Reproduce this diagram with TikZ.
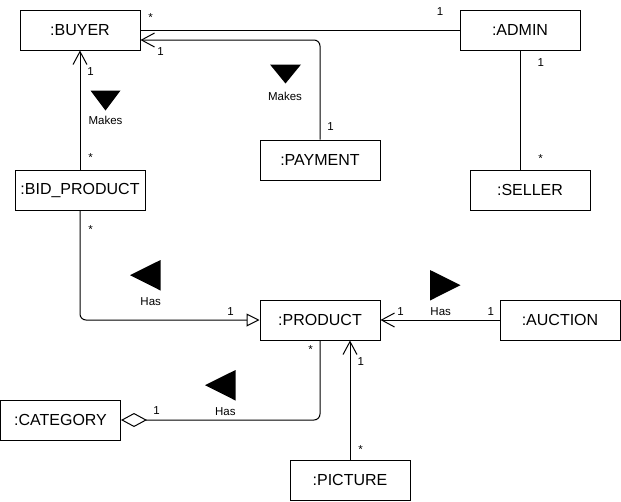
\documentclass[tikz,border=0pt]{standalone}
\usepackage{fontspec}
\setmainfont{Liberation Sans}
\usetikzlibrary{arrows.meta,calc}
\begin{document}
\begin{tikzpicture}[x=1pt,y=-1pt,
  box/.style={draw=black,line width=1pt,fill=white,minimum width=120pt,minimum height=40pt,inner sep=0pt,font=\fontsize{16}{18}\selectfont},
  conn/.style={draw=black,line width=1pt},
  openarr/.style={-{Straight Barb[length=13pt,width=14pt,line width=1pt]}},
  inh/.style={-{Triangle[open,length=13pt,width=13pt,line width=1pt,fill=white]}},
  agg/.style={-{Diamond[open,length=26pt,width=14pt,line width=1pt,fill=white]}},
  lbl/.style={font=\fontsize{11.5}{13}\selectfont,anchor=base,inner sep=0pt},
  tri/.style={fill=black}]
\useasboundingbox (0,0) rectangle (621,501);
% boxes
\node[box] (buyer) at (80,30) {:BUYER};
\node[box] (admin) at (520,30) {:ADMIN};
\node[box] (payment) at (320,160) {:PAYMENT};
\node[box] (seller) at (530,190) {:SELLER};
\node[box,minimum width=130pt] (bid) at (80,190) {:BID\_PRODUCT};
\node[box] (product) at (320,320) {:PRODUCT};
\node[box] (auction) at (560,320) {:AUCTION};
\node[box] (category) at (60.5,420) {:CATEGORY};
\node[box] (picture) at (350,480) {:PICTURE};
% connectors
\draw[conn] (admin.west) -- (buyer.east);
\draw[conn,openarr,rounded corners=6pt] (payment.north) |- ($(buyer.east)+(0,10)$);
\draw[conn,openarr] (bid.north) -- (buyer.south);
\draw[conn] (admin.south) -- (admin.south |- seller.north);
\draw[conn,inh,rounded corners=6pt] (bid.south) |- (product.west);
\draw[conn,openarr] (auction.west) -- (product.east);
\draw[conn,agg,rounded corners=6pt] (product.south) |- (category.east);
\draw[conn,openarr] (picture.north) -- (picture.north |- product.south);
% multiplicities
\node[lbl] (m1) at (150.7,21.5) {*};
\node[lbl] (m2) at (440,15) {1};
\node[lbl] (m3) at (160.5,55) {1};
\node[lbl] (m4) at (90.5,75) {1};
\node[lbl] (m5) at (90.7,161.5) {*};
\node[lbl] (m6) at (330.5,130.7) {1};
\node[lbl] (m7) at (540.7,66) {1};
\node[lbl] (m8) at (540.7,162.5) {*};
\node[lbl] (m9) at (90.7,233.5) {*};
\node[lbl] (m10) at (230.5,315) {1};
\node[lbl] (m11) at (400.5,315) {1};
\node[lbl] (m12) at (490.7,315) {1};
\node[lbl] (m13) at (310.5,353.5) {*};
\node[lbl] (m14) at (156.5,414) {1};
\node[lbl] (m15) at (360.7,365) {1};
\node[lbl] (m16) at (360.7,453.5) {*};
% association names
\node[lbl] (n1) at (105.5,124) {Makes};
\node[lbl] (n2) at (285,100.7) {Makes};
\node[lbl] (n3) at (150.7,305) {Has};
\node[lbl] (n4) at (440.7,315) {Has};
\node[lbl] (n5) at (225.3,415) {Has};
% direction triangles
\fill[tri] (90.5,90.5) -- (120.5,90.5) -- (105.5,110.5) -- cycle;
\fill[tri] (270,64.5) -- (301,64.5) -- (285.5,83.5) -- cycle;
\fill[tri] (160.5,260) -- (160.5,290.5) -- (130,275.2) -- cycle;
\fill[tri] (430,270) -- (430,300.5) -- (460.5,285.2) -- cycle;
\fill[tri] (235.5,370) -- (235.5,400.5) -- (205,385.2) -- cycle;
\end{tikzpicture}
\end{document}
